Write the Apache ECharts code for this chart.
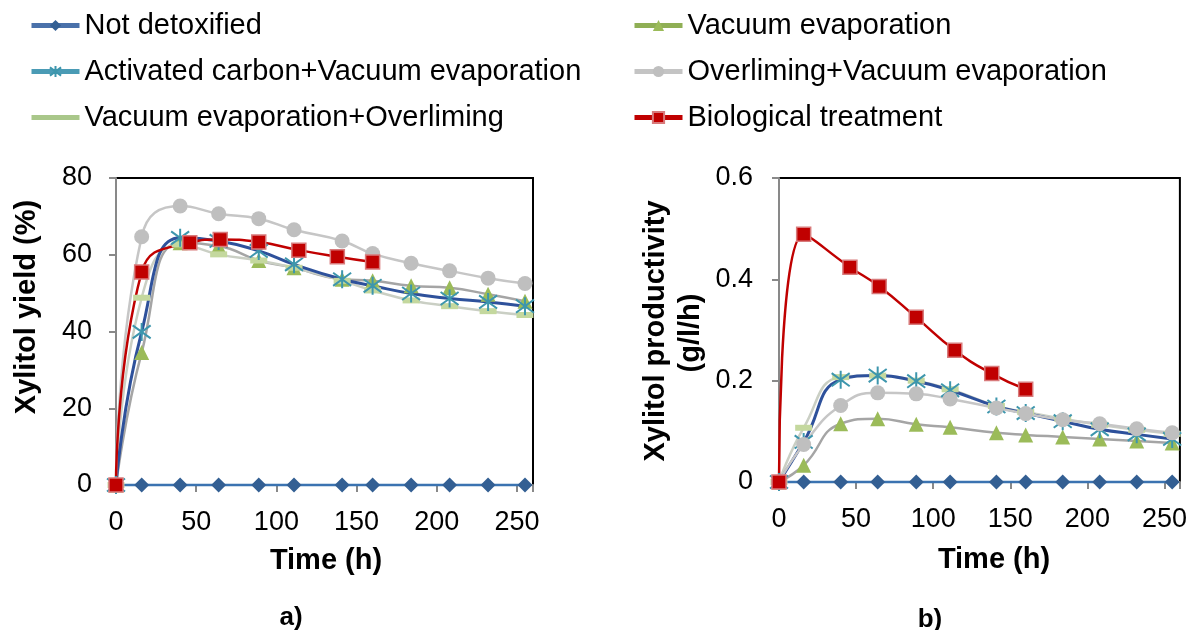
<!DOCTYPE html>
<html>
<head>
<meta charset="utf-8">
<script src="https://cdn.jsdelivr.net/npm/echarts@6/dist/echarts.min.js"></script>
<style>
  html, body { margin: 0; padding: 0; background: #fff; }
  #chart { width: 1190px; height: 630px; }
</style>
</head>
<body>
<div id="chart"></div>
<script>
// Sampling times (h)
const timeStd = [0, 16, 40, 64, 89, 111, 141, 160, 184, 208, 232, 255];
const timeBio = [0, 16, 46, 65, 89, 114, 138, 160];

// a) Xylitol yield (%)
const yieldNotDetox = [0, 0, 0, 0, 0, 0, 0, 0, 0, 0, 0, 0];
const yieldVacEvap  = [0, 34.5, 63.1, 62.3, 58.5, 56.6, 53.6, 53.2, 51.9, 51.4, 49.7, 47.9];
const yieldAcVe     = [0, 39.9, 64.4, 63.6, 61.0, 57.5, 53.6, 51.9, 49.9, 48.6, 47.7, 46.6];
const yieldOlVe     = [0, 64.7, 72.7, 70.7, 69.4, 66.5, 63.6, 60.3, 57.8, 55.8, 53.9, 52.5];
const yieldVeOl     = [0, 48.8, 62.7, 60.1, 58.5, 56.6, 53.2, 50.7, 48.1, 46.6, 45.3, 44.3];
const yieldBio      = [0, 55.5, 63.1, 64.0, 63.3, 61.2, 59.5, 58.1];

// b) Xylitol productivity (g/l/h)
const prodNotDetox = [0, 0, 0, 0, 0, 0, 0, 0, 0, 0, 0, 0];
const prodVacEvap  = [0, 0.033, 0.115, 0.125, 0.114, 0.108, 0.097, 0.093, 0.089, 0.085, 0.081, 0.077];
const prodAcVe     = [0, 0.079, 0.202, 0.210, 0.199, 0.181, 0.149, 0.136, 0.120, 0.104, 0.094, 0.085];
const prodOlVe     = [0, 0.074, 0.151, 0.176, 0.174, 0.164, 0.146, 0.135, 0.123, 0.115, 0.105, 0.097];
const prodVeOl     = [0, 0.107, 0.207, 0.210, 0.200, 0.183, 0.150, 0.138, 0.125, 0.113, 0.103, 0.095];
const prodBio      = [0, 0.489, 0.424, 0.386, 0.325, 0.260, 0.214, 0.183];

const names = {
  nd: 'Not detoxified',
  ve: 'Vacuum evaporation',
  ac: 'Activated carbon+Vacuum evaporation',
  ol: 'Overliming+Vacuum evaporation',
  vo: 'Vacuum evaporation+Overliming',
  bio: 'Biological treatment'
};

const FONT = 'Liberation Sans, Arial, sans-serif';
const asterisk = 'path://M0,0L16,16M16,0L0,16M8,-3L8,19';

const pairs = (xs, ys) => ys.map((y, i) => [xs[i], y]);

function styles(key) {
  switch (key) {
    case 'nd': return {
      symbol: 'diamond', symbolSize: 15,
      itemStyle: { color: '#335F93' },
      lineStyle: { color: '#3B73B1', width: 2.5 }
    };
    case 've': return {
      symbol: 'triangle', symbolSize: 15,
      itemStyle: { color: '#9BBB59' },
      lineStyle: { color: '#A5A5A5', width: 2.5 }
    };
    case 'ac': return {
      symbol: asterisk, symbolSize: 18,
      itemStyle: { color: '#3D96AD', borderColor: '#3D96AD', borderWidth: 2 },
      lineStyle: { color: '#2E519B', width: 3 }
    };
    case 'ol': return {
      symbol: 'circle', symbolSize: 15,
      itemStyle: { color: '#BFBFBF' },
      lineStyle: { color: '#C6C6C6', width: 2.5 }
    };
    case 'vo': return {
      symbol: 'rect', symbolSize: [17, 6],
      itemStyle: { color: '#C4D89E' },
      lineStyle: { color: '#CACFC4', width: 2.5 }
    };
    case 'bio': return {
      symbol: 'rect', symbolSize: 14,
      itemStyle: { color: '#C00000', borderColor: '#D87A7B', borderWidth: 1.5 },
      lineStyle: { color: '#C00000', width: 2.5 }
    };
  }
}

function mkSeries(key, xs, ys, gi) {
  return Object.assign({
    type: 'line', name: names[key],
    xAxisIndex: gi, yAxisIndex: gi,
    data: pairs(xs, ys),
    smooth: 0.5, clip: false, showSymbol: true,
    animation: false
  }, styles(key));
}

const series = [];
[
  [yieldNotDetox, yieldVacEvap, yieldVeOl, yieldAcVe, yieldOlVe, yieldBio],
  [prodNotDetox, prodVacEvap, prodVeOl, prodAcVe, prodOlVe, prodBio]
].forEach((set, gi) => {
  series.push(mkSeries('nd', timeStd, set[0], gi));
  series.push(mkSeries('ve', timeStd, set[1], gi));
  series.push(mkSeries('vo', timeStd, set[2], gi));
  series.push(mkSeries('ac', timeStd, set[3], gi));
  series.push(mkSeries('ol', timeStd, set[4], gi));
  series.push(mkSeries('bio', timeBio, set[5], gi));
});

const legendText = { fontSize: 29, fontFamily: FONT, color: '#000' };
const legendCommon = {
  orient: 'vertical', itemWidth: 48, itemHeight: 14, itemGap: 17,
  textStyle: legendText, selectedMode: false
};

const TICK_FONT = 27;

function xAxis(gi) {
  return {
    type: 'value', gridIndex: gi, min: 0, max: 260, interval: 50,
    splitLine: { show: false },
    axisLine: { show: true, onZero: false, lineStyle: { color: '#898989', width: 2 } },
    axisTick: { show: true, inside: false, length: 7, lineStyle: { color: '#898989', width: 2 } },
    axisLabel: {
      margin: 24, fontSize: TICK_FONT, fontFamily: FONT, color: '#000',
      formatter: v => (v % 50 === 0 ? String(v) : '')
    }
  };
}
function yAxis(gi, max, interval, fmt, margin) {
  return {
    type: 'value', gridIndex: gi, min: 0, max: max, interval: interval,
    splitLine: { show: false },
    axisLine: { show: true, lineStyle: { color: '#898989', width: 2 } },
    axisTick: { show: true, inside: false, length: 7, lineStyle: { color: '#898989', width: 2 } },
    axisLabel: { margin: margin, fontSize: TICK_FONT, fontFamily: FONT, color: '#000', formatter: fmt }
  };
}

const titleFont = 'bold 29px ' + FONT;
function txt(text, x, y, rot, font) {
  return {
    type: 'text', x: x, y: y, rotation: rot || 0, silent: true,
    style: { text: text, font: font || titleFont, fill: '#000', textAlign: 'center', textVerticalAlign: 'middle' }
  };
}

const option = {
  backgroundColor: '#fff',
  animation: false,
  legend: [
    Object.assign({}, legendCommon, {
      left: 24, top: 6,
      data: [
        { name: names.nd, lineStyle: { color: '#4A71AA', width: 5 } },
        { name: names.ac, lineStyle: { color: '#4A9BB5', width: 5 } },
        { name: names.vo, lineStyle: { color: '#A9C78A', width: 5 }, itemStyle: { opacity: 0 } }
      ]
    }),
    Object.assign({}, legendCommon, {
      left: 627, top: 6,
      data: [
        { name: names.ve, lineStyle: { color: '#8FAF55', width: 5 } },
        { name: names.ol, lineStyle: { color: '#C4C4C4', width: 5 } },
        { name: names.bio, lineStyle: { color: '#C00000', width: 5 } }
      ]
    })
  ],
  grid: [
    { left: 116, top: 178, width: 417, height: 307, show: true, borderColor: '#000', borderWidth: 2, backgroundColor: 'transparent' },
    { left: 779, top: 178, width: 403, height: 304, show: true, borderColor: '#000', borderWidth: 2, backgroundColor: 'transparent' }
  ],
  xAxis: [xAxis(0), xAxis(1)],
  yAxis: [
    yAxis(0, 80, 20, v => String(v), 24),
    yAxis(1, 0.6, 0.2, v => (v === 0 ? '0' : v.toFixed(1)), 26)
  ],
  graphic: [
    txt('Xylitol yield (%)', 27, 307, Math.PI / 2),
    txt('Time (h)', 326, 561),
    txt('a)', 291, 618, 0, 'bold 26px ' + FONT),
    txt('Xylitol productivity', 656, 331, Math.PI / 2),
    txt('(g/l/h)', 691, 333, Math.PI / 2),
    txt('Time (h)', 994, 560),
    txt('b)', 930, 620, 0, 'bold 26px ' + FONT)
  ],
  series: series
};

const chart = echarts.init(document.getElementById('chart'), null, { renderer: 'canvas' });
chart.setOption(option);
</script>
</body>
</html>
